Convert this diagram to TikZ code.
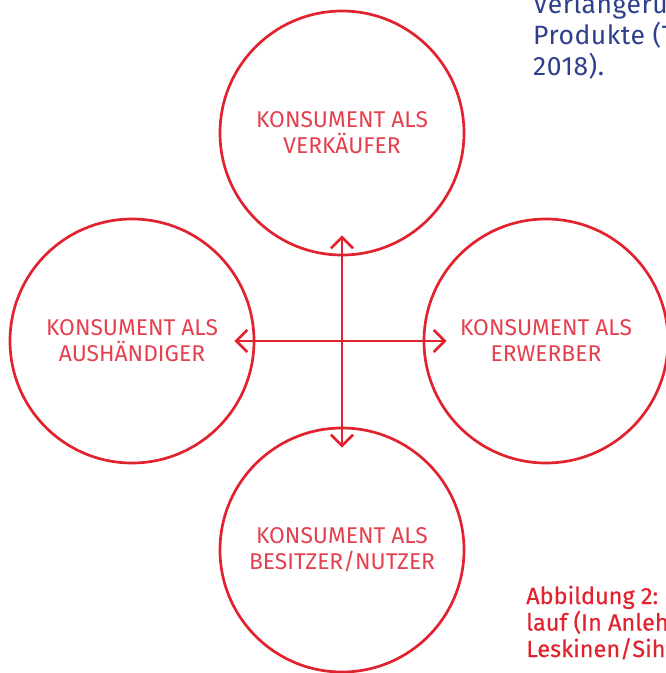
\documentclass[tikz,border=0pt]{standalone}
\usepackage{fontspec}
\setmainfont{Fira Sans}
\newfontfamily\capfont{Fira Sans}[FakeBold=0.4]
\newfontfamily\blurbfont{Fira Sans}[LetterSpace=2]
\usetikzlibrary{arrows.meta}

\definecolor{kred}{HTML}{E1232F}
\definecolor{klabel}{HTML}{E4404E}
\definecolor{kblue}{HTML}{2E3F8E}

\tikzset{
  role/.style={circle, draw=kred, line width=2.7pt, minimum size=244pt,
    inner sep=0pt, align=center, text=klabel,
    font=\fontsize{22.8}{26}\selectfont},
  flow/.style={draw=kred, line width=2.7pt,
    {Straight Barb[length=11pt,width=22pt]}-{Straight Barb[length=11pt,width=22pt]}},
  blurb/.style={anchor=base west, inner sep=0pt, text=kblue,
    font=\blurbfont\fontsize{26.5}{31}\selectfont},
  caption/.style={anchor=base west, inner sep=0pt, text=kred,
    font=\capfont\fontsize{23.5}{26}\selectfont},
}

\begin{document}
\begin{tikzpicture}[x=1pt, y=-1pt]
    \useasboundingbox (0,0) rectangle (666,673);
    \clip (0,0) rectangle (666,673);

    % four roles around the cross
    \node[role] (verk) at (342,133) {KONSUMENT ALS\\VERKÄUFER};
    \node[role] (aush) at (132,341) {KONSUMENT ALS\\AUSHÄNDIGER};
    \node[role] (erw)  at (546,341) {KONSUMENT ALS\\ERWERBER};
    \node[role] (bes)  at (342,550) {KONSUMENT ALS\\BESITZER/NUTZER};

    \draw[flow] ([xshift=-21pt]aush.east) -- ([xshift=24pt]erw.west);
    \draw[flow] ([yshift=21pt]verk.south) -- ([yshift=-21pt]bes.north);

    % running text, cut at the page edge
    \node[blurb] (txt1) at (533,13) {Verlängerun};
    \node[blurb] (txt2) at (533,44) {Produkte (T};
    \node[blurb] (txt3) at (533,75) {2018).};

    \node[caption] (cap1) at (526,604) {Abbildung 2:};
    \node[caption] (cap2) at (526,630.5) {lauf (In Anleh};
    \node[caption] (cap3) at (526,657) {Leskinen/Sih};
\end{tikzpicture}
\end{document}
